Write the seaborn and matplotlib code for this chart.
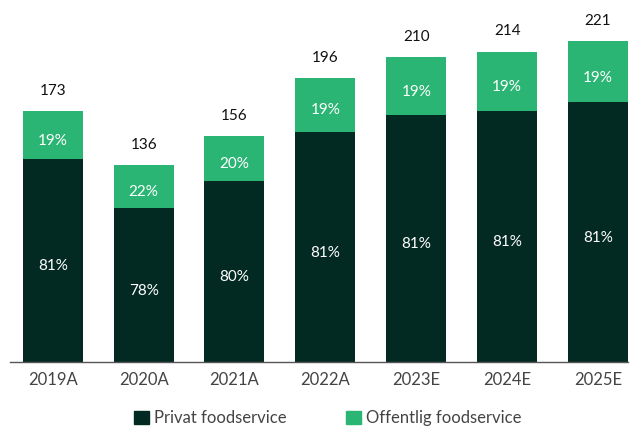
import numpy as np
import pandas as pd
import seaborn as sns
import matplotlib.pyplot as plt
from matplotlib.patches import Patch

years = ["2019A", "2020A", "2021A", "2022A", "2023E", "2024E", "2025E"]
totals = [173, 136, 156, 196, 210, 214, 221]
private_pct = [81, 78, 80, 81, 81, 81, 81]
public_pct = [19, 22, 20, 19, 19, 19, 19]

DARK = "#032a22"
LIGHT = "#2bb574"


def main():
    sns.set_theme(style="white")
    plt.rcParams["font.family"] = ["Lato", "DejaVu Sans"]

    df = pd.DataFrame({"year": years, "total": totals,
                       "private_pct": private_pct, "public_pct": public_pct})
    df["private"] = df["total"] * df["private_pct"] / 100

    fig = plt.figure(figsize=(6.3, 4.26), dpi=100)
    ax = fig.add_axes([10 / 630, 64 / 426, 618 / 630, 362 / 426])

    # full bar in light green, private part drawn on top
    sns.barplot(data=df, x="year", y="total", color=LIGHT, width=0.66,
                saturation=1, linewidth=0, ax=ax)
    sns.barplot(data=df, x="year", y="private", color=DARK, width=0.66,
                saturation=1, linewidth=0, ax=ax)

    # labels sit a little below the segment centre, like the original
    off = 4
    for i, row in df.iterrows():
        ax.text(i, row["total"] + 9, f"{row['total']}", ha="center",
                va="bottom", fontsize=11, color="#111111")
        ax.text(i, row["private"] / 2 - off, f"{row['private_pct']}%",
                ha="center", va="center", fontsize=11, color="white")
        ax.text(i, row["private"] + (row["total"] - row["private"]) / 2 - off,
                f"{row['public_pct']}%", ha="center", va="center",
                fontsize=11, color="white")

    ax.set_xlim(-0.47, 6.33)
    ax.set_ylim(0, 249.5)
    ax.set_xlabel("")
    ax.set_ylabel("")
    ax.set_yticks([])
    sns.despine(ax=ax, left=True)
    ax.spines["bottom"].set_color("#555555")
    ax.spines["bottom"].set_linewidth(1)
    ax.tick_params(axis="x", length=0, pad=7, labelsize=12, labelcolor="#444444")

    handles = [Patch(color=DARK, label="Privat foodservice"),
               Patch(color=LIGHT, label="Offentlig foodservice")]
    fig.legend(handles=handles, loc="center", bbox_to_anchor=(0.52, 0.018),
               ncol=2, frameon=False, fontsize=12, handlelength=0.9,
               handleheight=0.9, handletextpad=0.3, columnspacing=3.6,
               labelcolor="#444444")

    fig.savefig("out.png", dpi=100)


if __name__ == "__main__":
    main()
